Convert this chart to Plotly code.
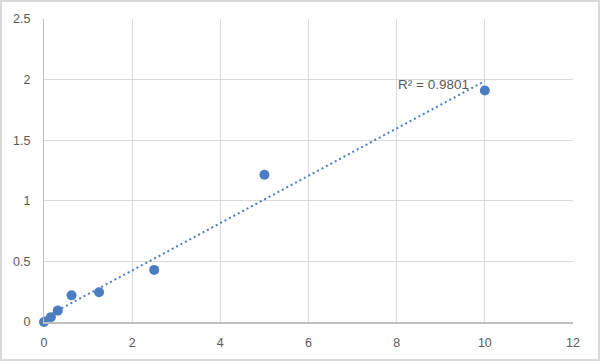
import numpy as np
import plotly.graph_objects as go

x_vals = [0, 0.156, 0.3125, 0.625, 1.25, 2.5, 5, 10]
y_vals = [0.0, 0.04, 0.094, 0.22, 0.245, 0.43, 1.215, 1.91]
r2_label = "R² = 0.9801"
x_ticks = [0, 2, 4, 6, 8, 10, 12]
y_ticks = [0, 0.5, 1, 1.5, 2, 2.5]

slope, intercept = np.polyfit(x_vals, y_vals, 1)
tx = np.linspace(min(x_vals), max(x_vals), 50)
ty = slope * tx + intercept

blue = "#4A7DC2"
grid = "#D9D9D9"
font = dict(family="Liberation Sans, Arial, sans-serif", size=12.5, color="#595959")

fig = go.Figure()
fig.add_trace(go.Scatter(x=tx, y=ty, mode="lines",
                         line=dict(color=blue, width=2, dash="2px,3px"),
                         hoverinfo="skip", showlegend=False, cliponaxis=False))
fig.add_trace(go.Scatter(x=x_vals, y=y_vals, mode="markers",
                         marker=dict(color=blue, size=10),
                         showlegend=False, cliponaxis=False))

W, H = 600, 361
ml, mr, mt, mb = 44, 27, 19, 39
pw, ph = W - ml - mr, H - mt - mb

fig.add_annotation(x=10, y=1.98, xref="x", yref="y", text=r2_label,
                   showarrow=False, xanchor="right", yanchor="bottom",
                   xshift=-14, yshift=-12, font=dict(family=font["family"], size=13.5, color="#595959"))

fig.add_shape(type="rect", xref="paper", yref="paper",
              x0=(-ml + 1) / pw, x1=1 + (mr - 1) / pw,
              y0=(-mb + 1) / ph, y1=1 + (mt - 1) / ph,
              line=dict(color="#D9D9D9", width=2), layer="below")

fig.update_layout(
    width=W, height=H,
    margin=dict(l=ml, r=mr, t=mt, b=mb),
    plot_bgcolor="white", paper_bgcolor="white",
    font=font,
    xaxis=dict(range=[0, 12], tickvals=x_ticks, showgrid=True, gridcolor=grid,
               gridwidth=1, zeroline=False, showline=True, linecolor="#BFBFBF",
               linewidth=1.5, ticks="", ticklen=0, ticklabelstandoff=8),
    yaxis=dict(range=[0, 2.5], tickvals=y_ticks, showgrid=True, gridcolor=grid,
               gridwidth=1, zeroline=False, showline=True, linecolor="#BFBFBF",
               linewidth=1, ticks="", ticklen=0, ticklabelstandoff=10),
)
fig.write_html("out.html")
